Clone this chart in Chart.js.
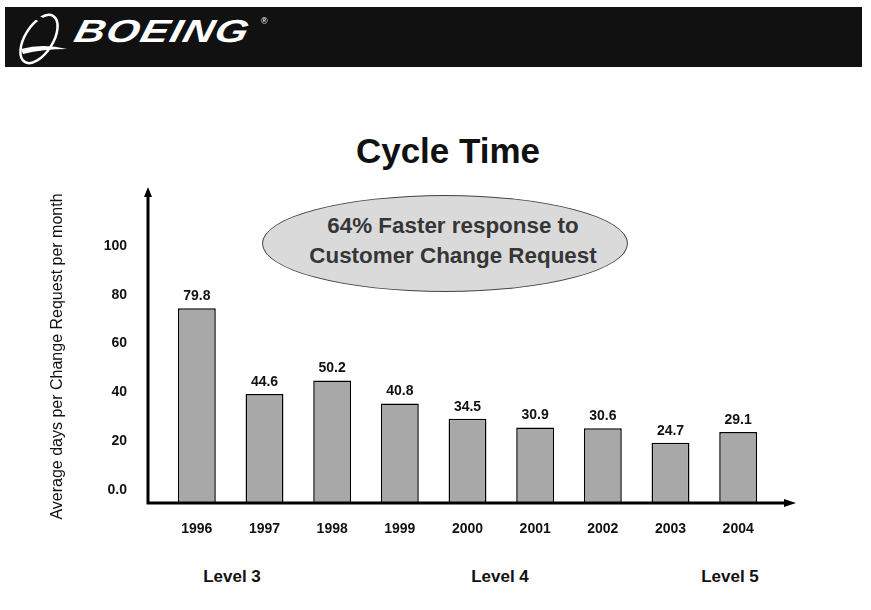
<!DOCTYPE html>
<html>
<head>
<meta charset="utf-8">
<script src="https://cdn.jsdelivr.net/npm/chart.js@4/dist/chart.umd.min.js"></script>
<style>
  body { margin: 0; background: #fff; font-family: "Liberation Sans", Arial, sans-serif; }
  #wrap { position: relative; width: 871px; height: 610px; overflow: hidden; }
  #header { position: absolute; left: 5px; top: 7px; width: 857px; height: 60px; background: #111; }
  #logo { position: absolute; left: 70px; top: 6px; color: #fff; font: italic 900 32px "Liberation Sans", Arial, sans-serif; letter-spacing: 1px; transform-origin: left center; transform: skewX(-14deg) scaleX(1.32); }
  #reg { position: absolute; left: 256px; top: 9px; color: #fff; font-size: 9px; }
  #swoosh { position: absolute; left: 6px; top: 2px; }
  #title { position: absolute; left: 0; width: 896px; top: 131px; text-align: center; font: bold 35px "Liberation Sans", Arial, sans-serif; color: #111; }
  #oval { position: absolute; left: 262px; top: 195px; width: 366px; height: 97px; border-radius: 50%; background: #dadada; border: 1px solid #444; box-sizing: border-box; }
  #ovalText { position: absolute; left: 270px; width: 366px; top: 211px; text-align: center; font: bold 22.4px "Liberation Sans", Arial, sans-serif; color: #363636; line-height: 30px; }
  .level { position: absolute; top: 567px; font: bold 17px "Liberation Sans", Arial, sans-serif; color: #111; width: 100px; text-align: center; }
  canvas { position: absolute; left: 0; top: 0; }
</style>
</head>
<body>
<div id="wrap">
  <div id="header">
    <svg id="swoosh" width="66" height="58" viewBox="0 0 66 58">
      <ellipse cx="28" cy="30" rx="14" ry="27" fill="none" stroke="#fff" stroke-width="2.5" transform="rotate(32 28 30)"/>
      <path d="M10 40 Q 32 34 56 40 Q 32 40 12 45 Z" fill="#fff"/>
      <path d="M14 2 L 40 16" stroke="#111" stroke-width="5"/>
    </svg>
    <div id="logo">BOEING</div>
    <div id="reg">®</div>
  </div>
  <div id="title">Cycle Time</div>
  <div id="oval"></div>
  <div id="ovalText">64% Faster response to<br>Customer Change Request</div>
  <div class="level" style="left:182px">Level 3</div>
  <div class="level" style="left:450px">Level 4</div>
  <div class="level" style="left:680px">Level 5</div>
  <canvas id="canvas" width="871" height="610"></canvas>
</div>
<script>
const years = ["1996", "1997", "1998", "1999", "2000", "2001", "2002", "2003", "2004"]
const cycleDays = [79.8, 44.6, 50.2, 40.8, 34.5, 30.9, 30.6, 24.7, 29.1]
const yTicks = [0, 20, 40, 60, 80, 100]

// value labels above each bar
const barLabels = {
    id: "barLabels",
    afterDatasetsDraw(chart) {
        const ctx = chart.ctx
        const meta = chart.getDatasetMeta(0)
        ctx.save()
        ctx.font = "bold 14px 'Liberation Sans', Arial, sans-serif"
        ctx.fillStyle = "#111"
        ctx.textAlign = "center"
        ctx.textBaseline = "bottom"
        meta.data.forEach((bar, i) => {
            ctx.fillText(cycleDays[i].toFixed(1), bar.x, bar.y - 5)
        })
        ctx.restore()
    }
}

// thick axis lines with arrow heads
const arrowAxes = {
    id: "arrowAxes",
    afterDraw(chart) {
        const ctx = chart.ctx
        const y0 = chart.scales.y.getPixelForValue(0)
        const x0 = 148
        ctx.save()
        ctx.strokeStyle = "#000"
        ctx.fillStyle = "#000"
        ctx.lineWidth = 3
        ctx.beginPath()
        ctx.moveTo(x0, y0)
        ctx.lineTo(x0, 195)
        ctx.moveTo(x0 - 1.5, y0)
        ctx.lineTo(786, y0)
        ctx.stroke()
        ctx.beginPath()
        ctx.moveTo(x0, 187)
        ctx.lineTo(x0 - 4, 197)
        ctx.lineTo(x0 + 4, 197)
        ctx.closePath()
        ctx.fill()
        ctx.beginPath()
        ctx.moveTo(796, y0)
        ctx.lineTo(784, y0 - 4)
        ctx.lineTo(784, y0 + 4)
        ctx.closePath()
        ctx.fill()
        ctx.restore()
    }
}

const target = document.querySelector("#canvas")
const cycleChart = new Chart(target, {
    type: "bar",
    data: {
        labels: years,
        datasets: [{
            data: cycleDays,
            backgroundColor: "#a8a8a8",
            borderColor: "#000",
            borderWidth: 1.5,
            barPercentage: 0.56,
            categoryPercentage: 1
        }]
    },
    options: {
        responsive: false,
        animation: false,
        layout: { padding: { top: 210, left: 0, right: 99, bottom: 0 } },
        plugins: { legend: { display: false }, tooltip: { enabled: false } },
        scales: {
            x: {
                grid: { display: false, drawTicks: false },
                border: { display: false },
                ticks: {
                    color: "#111",
                    padding: 18,
                    font: { family: "'Liberation Sans', Arial, sans-serif", size: 14, weight: "bold" }
                },
                afterFit(scale) { scale.height = 107 }
            },
            y: {
                min: 0,
                max: 120,
                grid: { display: false, drawTicks: false },
                border: { display: false },
                afterBuildTicks(scale) { scale.ticks = yTicks.map(v => ({ value: v })) },
                ticks: {
                    color: "#111",
                    padding: 36,
                    labelOffset: -13,
                    font: { family: "'Liberation Sans', Arial, sans-serif", size: 14, weight: "bold" },
                    callback: v => v === 0 ? "0.0" : String(v)
                },
                title: {
                    display: true,
                    text: "Average days per Change Request per month",
                    color: "#111",
                    padding: { top: 48, bottom: 0 },
                    font: { family: "'Liberation Sans', Arial, sans-serif", size: 16 }
                },
                afterFit(scale) { scale.width = 163 }
            }
        }
    },
    plugins: [barLabels, arrowAxes]
})
</script>
</body>
</html>
